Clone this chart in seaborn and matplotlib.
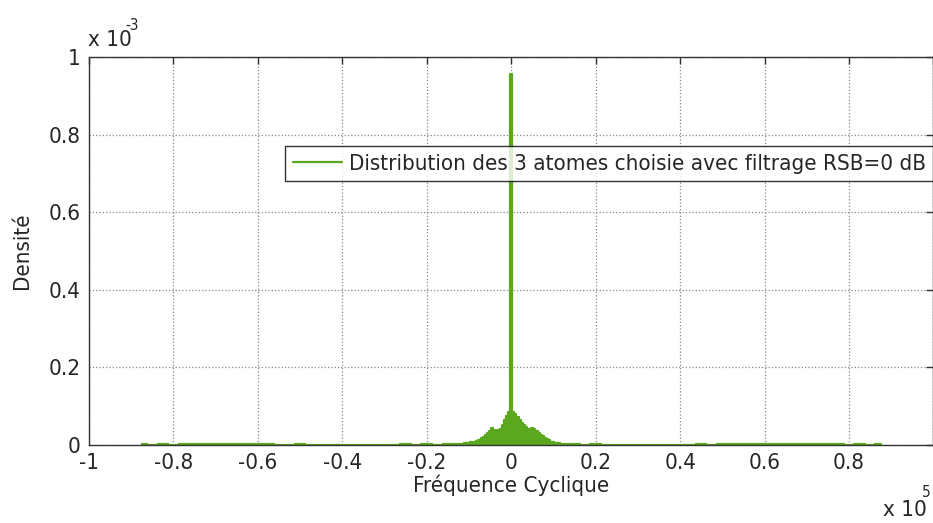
import numpy as np
import pandas as pd
import seaborn as sns
import matplotlib.pyplot as plt
from matplotlib.ticker import FuncFormatter

# frequencies in Hz, density values in units of 1e-3
outer_left_freq = list(range(-87500, -10000, 2500))
outer_left_dens = [0.002, 0.001, 0.002, 0.001, 0.002, 0.003, 0.004, 0.003,
                   0.004, 0.003, 0.002, 0.003, 0.002, 0.001, 0.001, 0.002,
                   0.001, 0.001, 0.000, 0.001, 0.000, 0.001, 0.000, 0.001,
                   0.001, 0.002, 0.001, 0.002, 0.001, 0.002, 0.003]

center_freq = list(range(-10000, 11000, 500))
center_dens = [0.006, 0.008, 0.006, 0.007, 0.010, 0.014, 0.018, 0.022,
               0.026, 0.030, 0.036, 0.043, 0.040, 0.037, 0.038, 0.042,
               0.052, 0.064, 0.076, 0.084, 0.955, 0.086, 0.079, 0.073,
               0.065, 0.058, 0.052, 0.046, 0.041, 0.039, 0.044, 0.042,
               0.036, 0.031, 0.027, 0.023, 0.019, 0.015, 0.012, 0.009,
               0.007, 0.006]

outer_right_freq = list(range(12500, 90000, 2500))
outer_right_dens = [0.003, 0.002, 0.001, 0.002, 0.001, 0.001, 0.000, 0.001,
                    0.000, 0.001, 0.000, 0.001, 0.001, 0.002, 0.001, 0.002,
                    0.002, 0.003, 0.002, 0.003, 0.004, 0.004, 0.003, 0.004,
                    0.003, 0.002, 0.002, 0.001, 0.002, 0.001, 0.002]

label = "Distribution des 3 atomes choisie avec filtrage RSB=0 dB"
green = "#5BA81E"

df = pd.DataFrame({
    "freq": outer_left_freq + center_freq + outer_right_freq,
    "dens": np.array(outer_left_dens + center_dens + outer_right_dens) * 1e-3,
})

sns.set_style("white")
plt.rcParams['font.family'] = ['DejaVu Sans']
plt.rcParams['font.stretch'] = 'condensed'
plt.rcParams['font.size'] = 16

fig = plt.figure(figsize=(9.33, 5.23), dpi=100)
ax = fig.add_axes([0.0954, 0.149, 0.905, 0.742])

ax.fill_between(df["freq"], df["dens"], step="mid", color=green, linewidth=0)
sns.lineplot(data=df, x="freq", y="dens", color=green, linewidth=1.6,
             drawstyle="steps-mid", ax=ax, label=label)

ax.set_xlim(-100000, 100000)
ax.set_ylim(0, 1e-3)
ax.set_xticks(np.arange(-100000, 100001, 20000))
ax.set_yticks(np.arange(0, 1.0001e-3, 0.2e-3))

def fmt(v, scale):
    s = "%g" % round(v / scale, 6)
    return "0" if s in ("0", "-0") else s

ax.xaxis.set_major_formatter(FuncFormatter(lambda v, p: "" if v > 90000 else fmt(v, 1e5)))
ax.yaxis.set_major_formatter(FuncFormatter(lambda v, p: fmt(v, 1e-3)))

ax.grid(True, linestyle=":", color="#888888", linewidth=0.9)
ax.tick_params(direction="in", top=True, right=True, length=5, width=1,
               color="#333333", labelsize=16, pad=6)
for s in ax.spines.values():
    s.set_color("#333333")
    s.set_linewidth(1)

ax.set_xlabel("Fréquence Cyclique", fontsize=16, labelpad=1)
ax.set_ylabel("Densité", fontsize=16, labelpad=12)

fig.text(0.094, 0.924, "x 10", fontsize=16, ha="left", va="center")
fig.text(0.134, 0.952, "-3", fontsize=11, ha="left", va="center")
fig.text(0.946, 0.024, "x 10", fontsize=16, ha="left", va="center")
fig.text(0.988, 0.058, "5", fontsize=11, ha="left", va="center")

leg = ax.legend(loc="center right", bbox_to_anchor=(1.0, 0.7255), frameon=True,
                fancybox=False, fontsize=16, handlelength=2.2,
                borderpad=0.35, handletextpad=0.3, borderaxespad=0)
leg.get_frame().set_edgecolor("black")
leg.get_frame().set_linewidth(1)

plt.savefig("out.png", dpi=100)
